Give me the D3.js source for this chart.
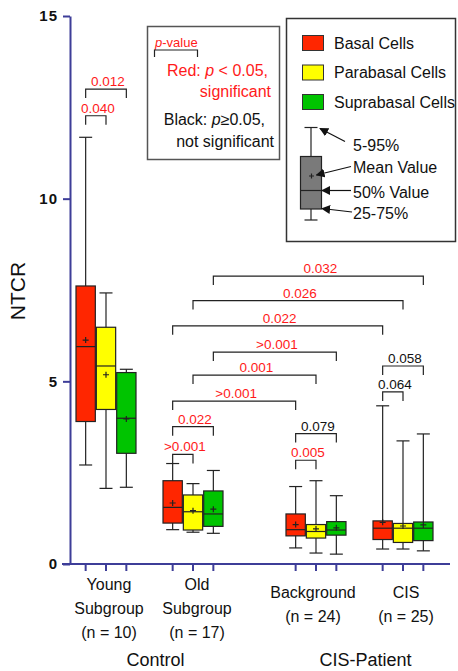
<!DOCTYPE html>
<html>
<head>
<meta charset="utf-8">
<script src="https://cdnjs.cloudflare.com/ajax/libs/d3/7.8.5/d3.min.js"></script>
<style>
  body { margin: 0; background: #fff; }
  svg { display: block; font-family: "Liberation Sans", Arial, sans-serif; }
</style>
</head>
<body>
<div id="chart"></div>
<script>
// categories
const supers = ['Control', 'CIS-Patient'];
const groups = ['Young', 'Old', 'Background', 'CIS'];
const groupSuper = ['Control', 'Control', 'CIS-Patient', 'CIS-Patient'];
const groupLabels = [['Young', 'Subgroup', '(n = 10)'], ['Old', 'Subgroup', '(n = 17)'], ['Background', '(n = 24)'], ['CIS', '(n = 25)']];
const cells = ['Basal Cells', 'Parabasal Cells', 'Suprabasal Cells'];
const cellColors = ['#ff2600', '#ffff00', '#00c400'];

// box statistics, rows = groups, columns = cells
const p5 = [[2.71, 2.07, 2.10], [0.94, 0.87, 0.84], [0.44, 0.30, 0.27], [0.41, 0.41, 0.36]];
const p25 = [[3.90, 4.23, 3.03], [1.12, 0.93, 1.03], [0.77, 0.71, 0.79], [0.67, 0.59, 0.64]];
const p50 = [[5.95, 5.42, 3.99], [1.55, 1.43, 1.37], [0.94, 0.89, 0.93], [0.98, 0.98, 0.98]];
const means = [[6.13, 5.18, 3.97], [1.67, 1.46, 1.50], [1.08, 0.96, 0.99], [1.14, 1.04, 1.07]];
const p75 = [[7.61, 6.48, 5.24], [2.28, 1.89, 2.00], [1.37, 1.08, 1.16], [1.18, 1.11, 1.15]];
const p95 = [[11.68, 7.42, 5.33], [2.75, 2.20, 2.56], [2.12, 2.28, 1.87], [4.33, 3.37, 3.56]];

const yTicks = [0, 5, 10, 15];

// p-value brackets: [group A, cell A, group B, cell B, level, label, significant]
const brackets = [
  [0, 0, 0, 1, 12.27, '0.040', true],
  [0, 0, 0, 2, 13.00, '0.012', true],
  [1, 0, 1, 1, 3.00, '>0.001', true],
  [1, 0, 1, 2, 3.76, '0.022', true],
  [2, 0, 2, 1, 2.84, '0.005', true],
  [2, 0, 2, 2, 3.57, '0.079', false],
  [3, 0, 3, 1, 4.71, '0.064', false],
  [3, 0, 3, 2, 5.42, '0.058', false],
  [1, 0, 2, 0, 4.46, '>0.001', true],
  [1, 1, 2, 1, 5.17, '0.001', true],
  [1, 2, 2, 2, 5.80, '>0.001', true],
  [1, 0, 3, 0, 6.52, '0.022', true],
  [1, 1, 3, 1, 7.21, '0.026', true],
  [1, 2, 3, 2, 7.88, '0.032', true]
];

const W = 458, H = 671;
const axisColor = '#3d3d98';
const lineColor = '#222';
const red = '#ff1a1a';

const svg = d3.select('#chart').append('svg').attr('width', W).attr('height', H);

const y = d3.scaleLinear().domain([0, 15]).range([564, 16]);
const xSuper = d3.scaleBand().domain(supers).range([62.5, 446.5]).paddingInner(0.1714);
const xSub = d3.scaleBand().domain([0, 1]).range([0, xSuper.bandwidth()]);
const xCell = d3.scaleBand().domain([0, 1, 2]).range([-30, 30]).paddingInner(0.05);

function groupCenter(g) {
  const inSuper = groupSuper.slice(0, g).filter(s => s === groupSuper[g]).length;
  return xSuper(groupSuper[g]) + xSub(inSuper) + xSub.bandwidth() / 2;
}
function cellCenter(g, c) {
  return groupCenter(g) + xCell(c) + xCell.bandwidth() / 2;
}

// y axis
const yAxis = d3.axisLeft(y).tickValues(yTicks).tickSize(7).tickSizeOuter(0).tickPadding(5);
const yg = svg.append('g').attr('transform', 'translate(70,0)').call(yAxis);
yg.select('.domain').attr('stroke', axisColor).attr('stroke-width', 2);
yg.selectAll('.tick line').attr('stroke', axisColor).attr('stroke-width', 2);
yg.selectAll('.tick text').attr('fill', '#111').attr('font-size', 15).attr('font-weight', 'bold')
  .attr('letter-spacing', 1).attr('font-family', '"Liberation Sans", Arial, sans-serif');

svg.append('text')
  .attr('transform', `translate(25,${(y(0) + y(15)) / 2 + 1}) rotate(-90)`)
  .attr('text-anchor', 'middle').attr('font-size', 21).attr('fill', '#111')
  .text('NTCR');

// x axis line and ticks
svg.append('line').attr('x1', 62).attr('x2', 450).attr('y1', y(0)).attr('y2', y(0))
  .attr('stroke', axisColor).attr('stroke-width', 2);

groups.forEach((g, gi) => {
  cells.forEach((c, ci) => {
    svg.append('line')
      .attr('x1', cellCenter(gi, ci)).attr('x2', cellCenter(gi, ci))
      .attr('y1', y(0)).attr('y2', y(0) + 7)
      .attr('stroke', axisColor).attr('stroke-width', 2);
  });
});

// group labels
groups.forEach((g, gi) => {
  const lines = groupLabels[gi];
  const y0 = lines.length === 3 ? 590 : 598;
  const t = svg.append('text').attr('text-anchor', 'middle').attr('font-size', 16).attr('fill', '#111');
  lines.forEach((l, li) => {
    t.append('tspan').attr('x', groupCenter(gi) + (gi === 2 ? -3 : gi === 1 ? 4 : 3)).attr('y', y0 + li * 24).text(l);
  });
});
supers.forEach(s => {
  svg.append('text')
    .attr('x', xSuper(s) + xSuper.bandwidth() / 2 + 6).attr('y', 666)
    .attr('text-anchor', 'middle').attr('font-size', 18).attr('fill', '#111')
    .text(s);
});

// boxes
const capW = 13;
groups.forEach((g, gi) => {
  cells.forEach((c, ci) => {
    const cx = cellCenter(gi, ci);
    const bw = xCell.bandwidth();
    const b = svg.append('g').attr('stroke', lineColor).attr('stroke-width', 1.2);
    b.append('line').attr('x1', cx).attr('x2', cx).attr('y1', y(p5[gi][ci])).attr('y2', y(p95[gi][ci]));
    b.append('line').attr('x1', cx - capW / 2).attr('x2', cx + capW / 2).attr('y1', y(p5[gi][ci])).attr('y2', y(p5[gi][ci]));
    b.append('line').attr('x1', cx - capW / 2).attr('x2', cx + capW / 2).attr('y1', y(p95[gi][ci])).attr('y2', y(p95[gi][ci]));
    b.append('rect')
      .attr('x', cx - bw / 2).attr('width', bw)
      .attr('y', y(p75[gi][ci])).attr('height', y(p25[gi][ci]) - y(p75[gi][ci]))
      .attr('fill', cellColors[ci]);
    b.append('line').attr('x1', cx - bw / 2).attr('x2', cx + bw / 2).attr('y1', y(p50[gi][ci])).attr('y2', y(p50[gi][ci]));
    const my = y(means[gi][ci]);
    b.append('path').attr('d', `M${cx - 3},${my}H${cx + 3}M${cx},${my - 3}V${my + 3}`);
  });
});

// p-value brackets
const tickLen = 9;
brackets.forEach(([ga, ca, gb, cb, level, label, sig]) => {
  const x1 = cellCenter(ga, ca), x2 = cellCenter(gb, cb), by = y(level);
  svg.append('path')
    .attr('d', `M${x1},${by + tickLen}V${by}H${x2}V${by + tickLen}`)
    .attr('fill', 'none').attr('stroke', lineColor).attr('stroke-width', 1.2);
  svg.append('text')
    .attr('x', (x1 + x2) / 2 + 2).attr('y', by - 3)
    .attr('text-anchor', 'middle').attr('font-size', 13.5)
    .attr('fill', sig ? red : '#111')
    .text(label);
});

// p-value key box
const k = svg.append('g');
k.append('rect').attr('x', 147.5).attr('y', 26.5).attr('width', 132).attr('height', 133)
  .attr('fill', '#fff').attr('stroke', '#555').attr('stroke-width', 1.5);
const pv = k.append('text').attr('x', 155).attr('y', 47).attr('font-size', 13).attr('fill', red);
pv.append('tspan').attr('font-style', 'italic').text('p');
pv.append('tspan').text('-value');
k.append('path').attr('d', 'M154.5,57V50H197.5V57').attr('fill', 'none').attr('stroke', lineColor).attr('stroke-width', 1.2);
const keyLines = [
  [[['Red: ', false], ['p', true], [' < 0.05,', false]], 268, 76, red],
  [[['significant', false]], 271, 97, red],
  [[['Black: ', false], ['p', true], ['≥0.05,', false]], 265, 125, '#111'],
  [[['not significant', false]], 274, 147, '#111']
];
keyLines.forEach(([parts, xr, yy, col]) => {
  const t = k.append('text').attr('x', xr).attr('y', yy).attr('text-anchor', 'end').attr('font-size', 16).attr('fill', col);
  parts.forEach(([s, it]) => t.append('tspan').attr('font-style', it ? 'italic' : 'normal').text(s));
});

// legend box
const lg = svg.append('g');
lg.append('rect').attr('x', 286.5).attr('y', 18.5).attr('width', 169).attr('height', 223)
  .attr('fill', '#fff').attr('stroke', '#333').attr('stroke-width', 1.5);
cells.forEach((c, ci) => {
  const yy = 43 + ci * 29.5;
  lg.append('rect').attr('x', 302.5).attr('y', yy - 7.5).attr('width', 21).attr('height', 15)
    .attr('fill', cellColors[ci]).attr('stroke', '#333').attr('stroke-width', 1);
  lg.append('text').attr('x', 334).attr('y', yy + 5.5).attr('font-size', 16).attr('fill', '#111').text(c);
});

// legend example box
const ex = lg.append('g').attr('stroke', lineColor).attr('stroke-width', 1.2);
ex.append('line').attr('x1', 311).attr('x2', 311).attr('y1', 127.5).attr('y2', 220);
ex.append('line').attr('x1', 304.5).attr('x2', 317.5).attr('y1', 127.5).attr('y2', 127.5);
ex.append('line').attr('x1', 304.5).attr('x2', 317.5).attr('y1', 220).attr('y2', 220);
ex.append('rect').attr('x', 300.5).attr('y', 156.5).attr('width', 21).attr('height', 52.5).attr('fill', '#7a7a7a');
ex.append('line').attr('x1', 300.5).attr('x2', 321.5).attr('y1', 190.5).attr('y2', 190.5);
ex.append('path').attr('d', 'M309,176H314M311.5,173.5V178.5');

const defs = svg.append('defs');
defs.append('marker').attr('id', 'arr').attr('viewBox', '0 0 10 10').attr('refX', 9).attr('refY', 5)
  .attr('markerWidth', 9).attr('markerHeight', 9).attr('markerUnits', 'userSpaceOnUse').attr('orient', 'auto')
  .append('path').attr('d', 'M0,0L10,5L0,10Z').attr('fill', '#111');

const notes = [
  ['5-95%', 145, [345, 141.5], [320, 128.5]],
  ['Mean Value', 167.5, [351, 166.5], [316.5, 175]],
  ['50% Value', 192.5, [351, 190.5], [322, 190.5]],
  ['25-75%', 213.5, [352, 212], [322, 208.5]]
];
notes.forEach(([label, ty, from, to]) => {
  lg.append('line').attr('x1', from[0]).attr('y1', from[1]).attr('x2', to[0]).attr('y2', to[1])
    .attr('stroke', '#111').attr('stroke-width', 1.2).attr('marker-end', 'url(#arr)');
  lg.append('text').attr('x', 353).attr('y', ty + 5.5).attr('font-size', 16).attr('fill', '#111').text(label);
});
</script>
</body>
</html>
